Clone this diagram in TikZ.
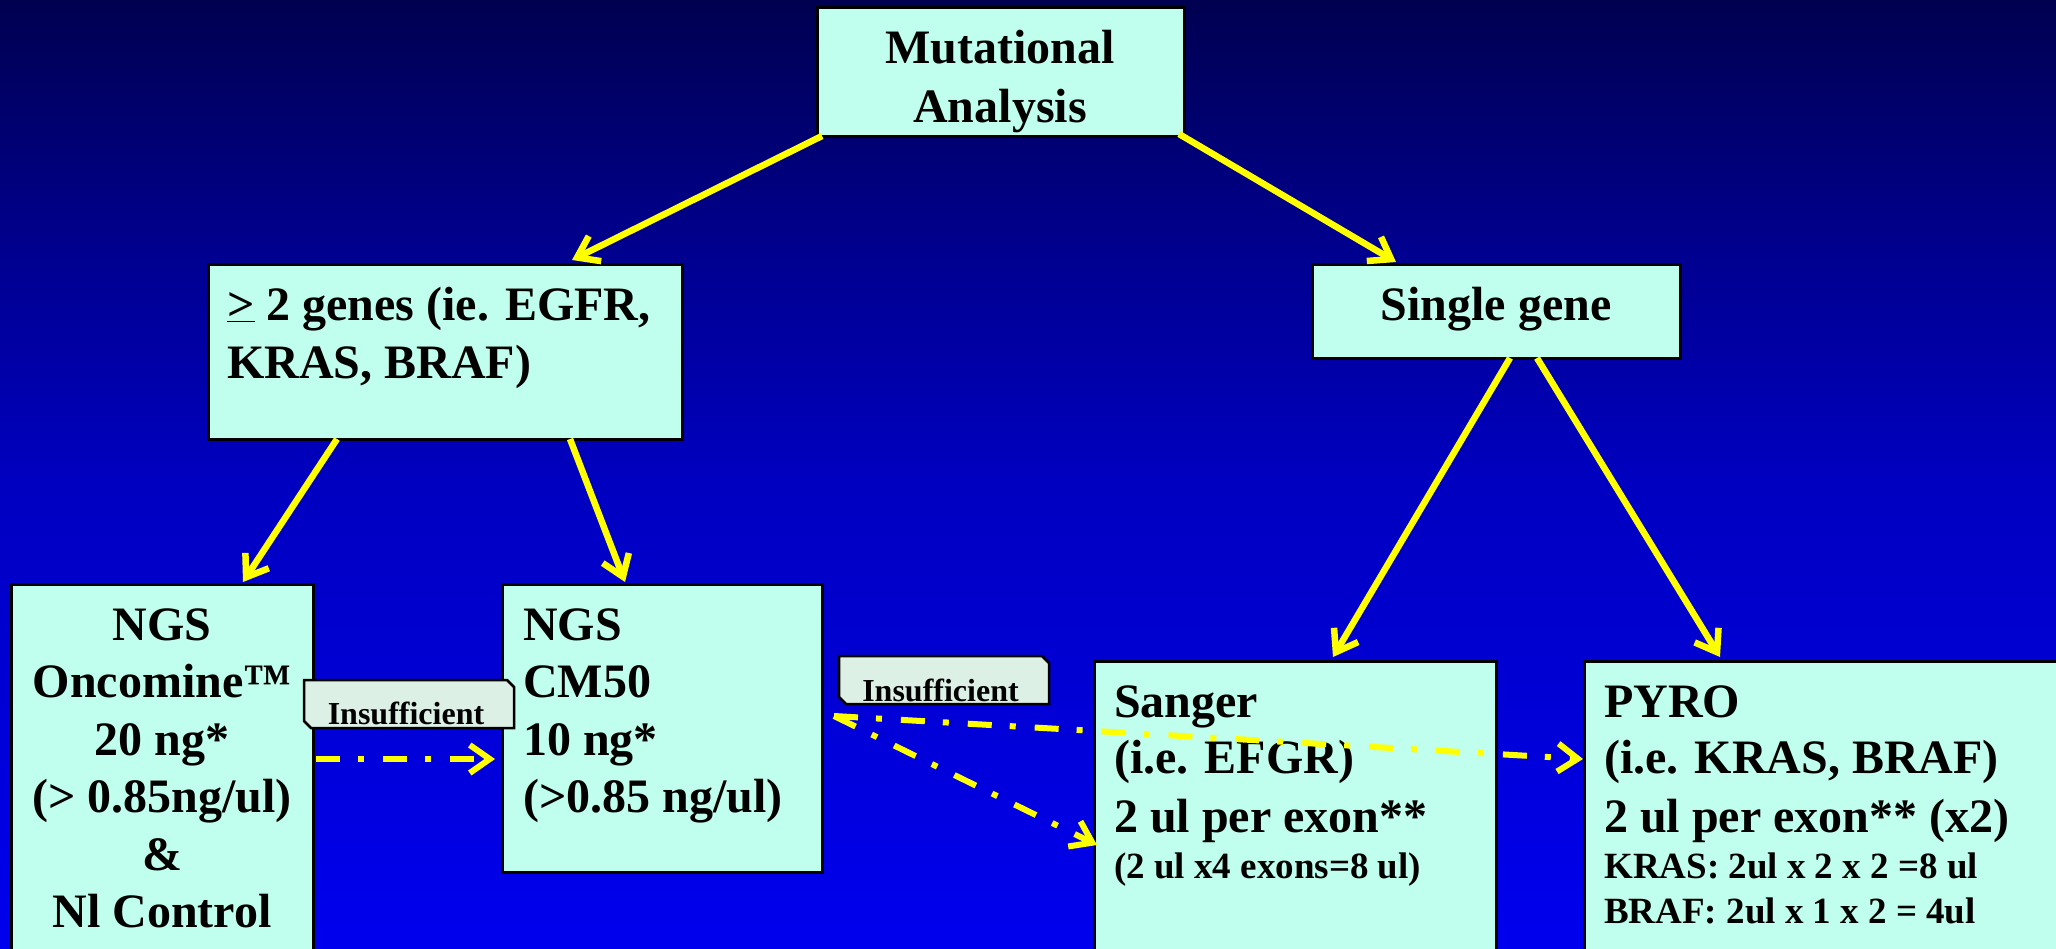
\documentclass[tikz,border=0pt]{standalone}
\usepackage{fontspec}
\setmainfont{Liberation Serif}
\usetikzlibrary{arrows.meta,calc}
\definecolor{boxfill}{HTML}{C0FFEE}
\definecolor{insfill}{HTML}{DCF0E6}
\definecolor{bgA}{HTML}{0000EE}
\definecolor{bgB}{HTML}{0000C0}
\definecolor{bgC}{HTML}{000090}
\definecolor{bgD}{HTML}{000050}
\definecolor{arrowyellow}{HTML}{FFFF00}
\pgfdeclareverticalshading{bgshade}{100bp}{color(0bp)=(bgA); color(25bp)=(bgA); color(49.7bp)=(bgB); color(61.5bp)=(bgC); color(75bp)=(bgD); color(100bp)=(bgD)}
\newcommand\FontBig{\fontsize{48}{57.5}\selectfont\bfseries}
\newcommand\FontSmall{\fontsize{37}{45}\selectfont\bfseries}
\newcommand\FontIns{\fontsize{32}{38}\selectfont\bfseries}
\begin{document}
\begin{tikzpicture}[x=1pt,y=-1pt,
  box/.style={draw=black,line width=3pt,fill=boxfill,rectangle,inner sep=0pt,outer sep=0pt,anchor=north west},
  lblbox/.style={rectangle,inner sep=0pt,outer sep=0pt,anchor=north west,minimum width=210pt,minimum height=48pt},
  lbldraw/.style={draw=black,line width=2.5pt,fill=insfill},
  txt/.style={inner sep=0pt,font=\FontBig,text=black},
  conn/.style={draw=arrowyellow,line width=6.5pt,-{Straight Barb[length=20pt,width=28pt]}},
  dconn/.style={draw=arrowyellow,line width=6pt,dash pattern=on 24pt off 18pt on 6pt off 19pt,-{Straight Barb[length=20pt,width=28pt]}}]
\useasboundingbox (0,0) rectangle (2056,948);
\clip (0,0) rectangle (2056,948);
\shade[shading=bgshade] (0,0) rectangle (2056,948);

% boxes
\node[box,minimum width=367pt,minimum height=129pt] (ma) at (817,7) {};
\node[box,minimum width=474pt,minimum height=175pt] (g2) at (208,264) {};
\node[box,minimum width=368pt,minimum height=94pt] (sg) at (1312,264) {};
\node[box,minimum width=302pt,minimum height=420pt] (onc) at (11,584) {};
\node[box,minimum width=320pt,minimum height=288pt] (cm) at (502,584) {};
\node[box,minimum width=402pt,minimum height=340pt] (sa) at (1094,661) {};
\node[box,minimum width=520pt,minimum height=340pt] (py) at (1584,661) {};

% texts
\node[txt,anchor=base] (matx) at (1000,63) {\begin{tabular}[t]{@{}c@{}}Mutational\\[1.5pt]Analysis\end{tabular}};
\node[txt,anchor=base west] (g2tx) at (227,320) {\begin{tabular}[t]{@{}l@{}}\underline{>} 2 genes (ie. EGFR,\\[0.5pt]KRAS, BRAF)\end{tabular}};
\node[txt,anchor=base] (sgtx) at (1496,320) {Single gene};
\node[txt,anchor=base] (onctx) at (162,640) {\begin{tabular}[t]{@{}c@{}}NGS\\Oncomine™\\20 ng*\\(> 0.85ng/ul)\\\&\\Nl Control\end{tabular}};
\node[txt,anchor=base west] (cmtx) at (523,640) {\begin{tabular}[t]{@{}l@{}}NGS\\CM50\\10 ng*\\(>0.85 ng/ul)\end{tabular}};
\node[txt,anchor=base west] (satx) at (1114,717) {\begin{tabular}[t]{@{}l@{}}Sanger\\[-1.5pt](i.e. EFGR)\\[1.5pt]2 ul per exon**\\[-11.5pt]{\FontSmall (2 ul x4 exons=8 ul)}\end{tabular}};
\node[txt,anchor=base west] (pytx) at (1604,717) {\begin{tabular}[t]{@{}l@{}}PYRO\\[-1.5pt](i.e. KRAS, BRAF)\\[1.5pt]2 ul per exon** (x2)\\[-11.5pt]{\FontSmall KRAS: 2ul x 2 x 2 =8 ul}\\[-12.5pt]{\FontSmall BRAF: 2ul x 1 x 2 = 4ul}\end{tabular}};

% labels
\node[lblbox] (ins1) at (304,680) {};
\filldraw[lbldraw] (ins1.north west) -- ($(ins1.north east)+(-7,0)$) -- ($(ins1.north east)+(0,7)$) -- (ins1.south east) -- ($(ins1.south west)+(7,0)$) -- ($(ins1.south west)+(0,-7)$) -- cycle;
\node[txt,font=\FontIns,anchor=base] (ins1t) at ($(ins1.south)+(-3,-4)$) {Insufficient};
\node[lblbox] (ins2) at (839,656) {};
\filldraw[lbldraw] (ins2.north west) -- ($(ins2.north east)+(-7,0)$) -- ($(ins2.north east)+(0,7)$) -- (ins2.south east) -- ($(ins2.south west)+(7,0)$) -- ($(ins2.south west)+(0,-7)$) -- cycle;
\node[txt,font=\FontIns,anchor=base] (ins2t) at ($(ins2.south)+(-3.5,-3)$) {Insufficient};

% solid connectors
\draw[conn] ($(ma.south west)+(5,0)$) -- ($(g2.north west)+(364,-4)$);
\draw[conn] ($(ma.south east)+(-5,-2)$) -- ($(sg.north west)+(84,-2)$);
\draw[conn] ($(g2.south west)+(129,0)$) -- ($(onc.north west)+(232,-2)$);
\draw[conn] ($(g2.south west)+(362,0)$) -- ($(cm.north west)+(123,-2)$);
\draw[conn] ($(sg.south west)+(198,0)$) -- ($(sa.north west)+(239,-4)$);
\draw[conn] ($(sg.south west)+(225,0)$) -- ($(py.north west)+(136,-4)$);

% dash-dot connectors
\draw[dconn] ($(onc.north east)+(3,175)$) -- ($(cm.north west)+(-7,175)$);
\coordinate (split) at ($(cm.north east)+(12,132)$);
\draw[dconn] (split) -- ($(sa.north west)+(3,184)$);
\draw[dconn] (split) -- ($(py.north west)+(-1,98)$);
\end{tikzpicture}
\end{document}
